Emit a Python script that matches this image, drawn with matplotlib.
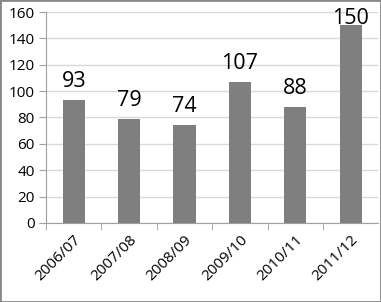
from matplotlib import pyplot as plt
from matplotlib.patches import Rectangle

seasons = ["2006/07", "2007/08", "2008/09", "2009/10", "2010/11", "2011/12"]
counts = [93, 79, 74, 107, 88, 150]

if __name__ == '__main__':
    plt.rcParams['font.family'] = ['Open Sans', 'DejaVu Sans']
    fig = plt.figure(figsize=(3.81, 3.02), dpi=100)
    ax = fig.add_axes([0.121, 0.262, 0.872, 0.698])

    xs = list(range(len(seasons)))
    ax.bar(xs, counts, 0.4, color="#7f7f7f", zorder=3)
    for x, v in zip(xs, counts):
        ax.text(x, min(v + 6, 147), str(v), ha='center', va='bottom',
                fontsize=15.5, color='black', zorder=4)

    ax.set_xlim(-0.5, len(seasons) - 0.5)
    ax.set_ylim(0, 160)
    ax.set_yticks(range(0, 161, 20))
    ax.set_xticks(xs)
    ax.set_xticklabels(seasons, rotation=45, ha='right', rotation_mode='anchor')
    ax.set_xticks([i - 0.5 for i in range(len(seasons))], minor=True)
    ax.tick_params(axis='x', which='major', length=0, labelsize=11, pad=7)
    ax.tick_params(axis='x', which='minor', length=5, color='#a0a0a0', direction='out')
    ax.tick_params(axis='y', length=5, color='#a0a0a0', labelsize=11, pad=3)
    ax.grid(axis='y', color='#d9d9d9', linewidth=1, zorder=0)
    for side in ['top', 'right']:
        ax.spines[side].set_visible(False)
    for side in ['left', 'bottom']:
        ax.spines[side].set_color('#a0a0a0')

    fig.patches.append(Rectangle((0, 0), 1, 1, transform=fig.transFigure,
                                 fill=False, edgecolor='#888888', linewidth=2))
    fig.savefig("out.png", dpi=100)
